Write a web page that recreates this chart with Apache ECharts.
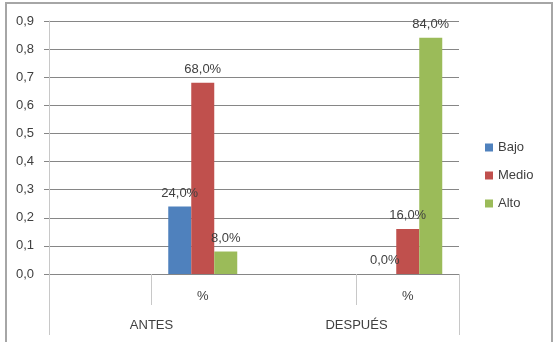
<!DOCTYPE html>
<html>
<head>
<meta charset="utf-8">
<script src="https://cdn.jsdelivr.net/npm/echarts@6/dist/echarts.min.js"></script>
<style>
  html, body { margin: 0; padding: 0; background: #fff; }
  #chart { width: 557px; height: 342px; }
  #frame { position: absolute; left: 5px; top: 2px; width: 544px; height: 350px; border: 2px solid #a6a6a6; pointer-events: none; }
</style>
</head>
<body>
<div id="chart"></div>
<div id="frame"></div>
<script>
// categorías: grupo exterior y etiqueta interior
var groups = ['ANTES', 'DESPUÉS']
var inner = ['', '%', '', '%']
var seriesNames = ['Bajo', 'Medio', 'Alto']
var bajo = [null, 0.24, null, 0.0]
var medio = [null, 0.68, null, 0.16]
var alto = [null, 0.08, null, 0.84]
var colors = ['#4F81BD', '#C0504D', '#9BBB59']

var font = 'Liberation Sans'
var textColor = '#404040'

function pct (p) {
  return (p.value * 100).toFixed(1).replace('.', ',') + '%'
}

function barSeries (name, data) {
  return {
    name: name,
    type: 'bar',
    barWidth: 23,
    barGap: '0%',
    data: data,
    label: {
      show: true,
      position: 'top',
      distance: 7,
      formatter: pct,
      fontFamily: font,
      fontSize: 13,
      color: textColor
    }
  }
}

var chart = echarts.init(document.getElementById('chart'))
chart.setOption({
  animation: false,
  color: colors,
  grid: { left: 49, right: 98, top: 21, bottom: 68, containLabel: false },
  legend: {
    orient: 'vertical',
    left: 480,
    top: 136,
    itemWidth: 8,
    itemHeight: 8,
    itemGap: 15,
    icon: 'rect',
    textStyle: { fontFamily: font, fontSize: 13, color: textColor },
    data: seriesNames
  },
  xAxis: [
    {
      type: 'category',
      data: inner,
      position: 'bottom',
      axisLine: { show: true, lineStyle: { color: '#868686' } },
      axisTick: {
        show: true,
        length: 31,
        interval: function (i) { return i === 1 || i === 3 },
        lineStyle: { color: '#c8c8c8' }
      },
      axisLabel: { margin: 16, fontFamily: font, fontSize: 13, color: textColor }
    },
    {
      type: 'category',
      data: groups,
      position: 'bottom',
      axisLine: { show: false },
      axisTick: { show: false },
      axisLabel: { margin: 45, fontFamily: font, fontSize: 13, color: textColor }
    },
    {
      type: 'category',
      data: [''],
      position: 'bottom',
      axisLine: { show: false },
      axisTick: { show: true, length: 61, lineStyle: { color: '#c8c8c8' } },
      axisLabel: { show: false }
    }
  ],
  yAxis: {
    type: 'value',
    min: 0,
    max: 0.9,
    interval: 0.1,
    axisLine: { show: true, lineStyle: { color: '#c8c8c8' } },
    axisTick: { show: true, length: 5, lineStyle: { color: '#868686' } },
    splitLine: { show: true, lineStyle: { color: '#868686' } },
    axisLabel: {
      margin: 15,
      fontFamily: font,
      fontSize: 13,
      color: textColor,
      formatter: function (v) { return v.toFixed(1).replace('.', ',') }
    }
  },
  series: [
    barSeries(seriesNames[0], bajo),
    barSeries(seriesNames[1], medio),
    barSeries(seriesNames[2], alto)
  ]
})
</script>
</body>
</html>
